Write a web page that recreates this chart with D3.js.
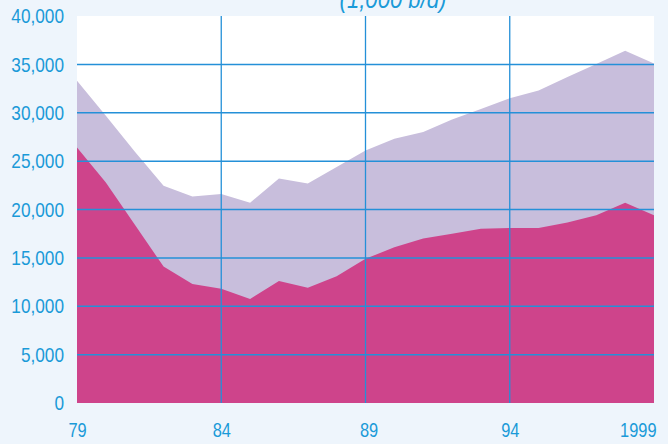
<!DOCTYPE html>
<html><head><meta charset="utf-8">
<script src="https://cdn.jsdelivr.net/npm/d3@7"></script>
<style>
html,body{margin:0;padding:0;background:#eef5fc;}
svg{display:block;}
text{font-family:"Liberation Sans",Arial,sans-serif;fill:#1a9ad8;}
</style></head>
<body>
<svg id="chart" width="668" height="444"></svg>
<script>
const years = d3.range(1979, 2000);
const totalSeries = [33.3,29.7,26.0,22.45,21.35,21.6,20.7,23.2,22.7,24.4,26.1,27.3,28.0,29.3,30.4,31.5,32.3,33.7,35.05,36.4,35.1].map(v=>v*1000);
const lowerSeries = [26.4,22.8,18.45,14.1,12.3,11.8,10.75,12.6,11.9,13.1,14.9,16.1,17.0,17.5,18.0,18.1,18.1,18.65,19.4,20.7,19.4].map(v=>v*1000);
const yTicks = [0,5000,10000,15000,20000,25000,30000,35000,40000];
const xTicks = [1979,1984,1989,1994,1999];
const xTickLabels = ["79","84","89","94","1999"];
const title = "(1,000 b/d)";

const narrow = 0.82;
const svg = d3.select("#chart");
const m = {left:77, right:654, top:16, bottom:403};
const x = d3.scaleLinear().domain([1979,1999]).range([m.left,m.right]);
const y = d3.scaleLinear().domain([0,40000]).range([m.bottom,m.top]);

svg.append("rect").attr("x",m.left).attr("y",m.top).attr("width",m.right-m.left).attr("height",m.bottom-m.top).attr("fill","#ffffff");

const area = d3.area().x((d,i)=>x(years[i])).y0(y(0)).y1(d=>y(d));
svg.append("path").datum(totalSeries).attr("d",area).attr("fill","#c8bedc");
svg.append("path").datum(lowerSeries).attr("d",area).attr("fill","#ce448b");

// grid
svg.append("g").selectAll("line").data(yTicks.filter(t=>t>0&&t<40000)).join("line")
  .attr("x1",m.left).attr("x2",m.right).attr("y1",d=>y(d)).attr("y2",d=>y(d))
  .attr("stroke","#2490d8").attr("stroke-width",1.5);
svg.append("g").selectAll("line").data(xTicks.filter(t=>t>1979&&t<1999)).join("line")
  .attr("y1",m.top).attr("y2",m.bottom).attr("x1",d=>x(d)).attr("x2",d=>x(d))
  .attr("stroke","#2490d8").attr("stroke-width",1.3);

// y axis labels
const yAxis = d3.axisLeft(y).tickValues(yTicks).tickSize(0).tickPadding(0).tickFormat(d3.format(","));
const gy = svg.append("g").attr("transform",`translate(${m.left},0)`).call(yAxis);
gy.select(".domain").remove();
gy.selectAll("text").attr("font-size",21).style("fill","#1a9ad8").attr("font-family",null)
  .attr("x",0).attr("transform",`translate(-13,0) scale(${narrow},1)`);

// x axis labels
const xAxis = d3.axisBottom(x).tickValues(xTicks).tickSize(0).tickPadding(0).tickFormat((d,i)=>xTickLabels[i]);
const gx = svg.append("g").attr("transform",`translate(0,${m.bottom})`).call(xAxis);
gx.select(".domain").remove();
gx.selectAll("text").attr("font-size",20).attr("dy",null).attr("y",0).attr("x",0).style("fill","#1a9ad8").attr("font-family",null)
  .attr("text-anchor",(d)=> d===1999 ? "end":"middle")
  .attr("transform",(d)=>`translate(${d===1999?2:(d===1989?3:0)},34) scale(${narrow},1)`);

svg.append("text").attr("text-anchor","middle")
  .attr("font-size",26).attr("font-style","italic")
  .attr("transform",`translate(393,8) scale(0.85,1)`).text(title);
</script>
</body></html>
